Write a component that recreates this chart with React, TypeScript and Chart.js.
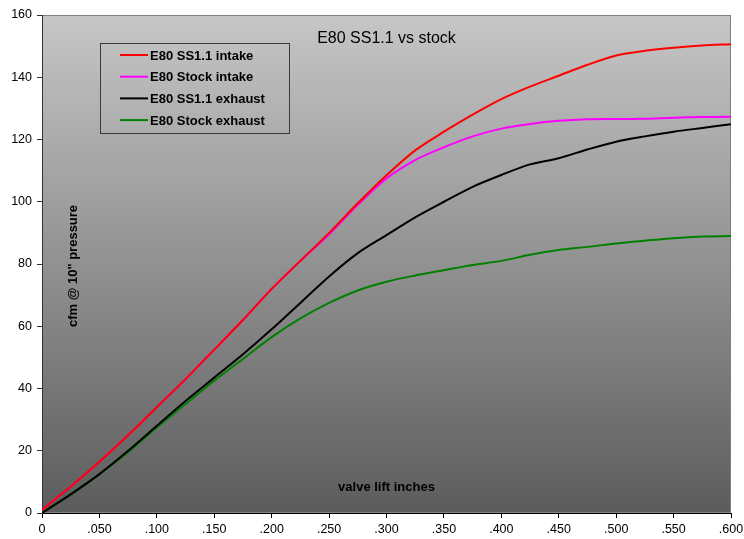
import { useEffect, useRef } from 'react'
import { Chart, LineController, LineElement, PointElement, LinearScale } from 'chart.js'

Chart.register(LineController, LineElement, PointElement, LinearScale)

// valve lift (inches) every .025
const lift = [
  0, 0.025, 0.05, 0.075, 0.1, 0.125, 0.15, 0.175, 0.2, 0.225, 0.25, 0.275, 0.3,
  0.325, 0.35, 0.375, 0.4, 0.425, 0.45, 0.475, 0.5, 0.525, 0.55, 0.575, 0.6,
]

// cfm @ 10" readings
const ssIntake = [
  1, 8.5, 16.5, 25, 34, 43, 52.5, 62, 72, 81, 90, 99.5, 108.5,
  116.5, 122.5, 128, 133, 137, 140.5, 144, 147, 148.5, 149.5, 150.2, 150.6,
]
const stockIntake = [
  1, 8.5, 16.5, 25, 34, 43, 52.5, 62, 72, 81, 89.5, 99, 107.5,
  113.4, 117.5, 121, 123.5, 125, 126, 126.5, 126.6, 126.7, 127, 127.2, 127.3,
]
const ssExhaust = [
  0, 6, 12.5, 20, 28, 36, 43.5, 51, 59, 67.5, 76, 83.5, 89.3,
  95, 100, 104.8, 108.6, 112, 114, 116.8, 119.3, 121, 122.5, 123.7, 124.9,
]
const stockExhaust = [
  0, 6, 12.5, 19.5, 27.5, 35, 42.5, 49.5, 56.5, 62.5, 67.5, 71.5, 74.3,
  76.3, 78, 79.7, 81, 83, 84.5, 85.5, 86.6, 87.5, 88.3, 88.8, 89,
]

const seriesNames = ['E80 SS1.1 intake', 'E80 Stock intake', 'E80 SS1.1 exhaust', 'E80 Stock exhaust']
const seriesColors = ['#ff0000', '#ff00ff', '#000000', '#008000']
const seriesValues = [ssIntake, stockIntake, ssExhaust, stockExhaust]

const FONT = "'Liberation Sans', Arial, sans-serif"

const fmtLift = (v: number) => (v === 0 ? '0' : v.toFixed(3).replace(/^0/, ''))

export default function App() {
  const canvasRef = useRef<HTMLCanvasElement>(null)
  const chartRef = useRef<Chart | null>(null)

  useEffect(() => {
    document.body.style.margin = '0'
    if (!canvasRef.current) return

    const decorPlugin = {
      id: 'decor',
      beforeDraw(chart: Chart) {
        const { ctx: c, chartArea: { left, right, top, bottom } } = chart
        c.save()
        c.fillStyle = '#ffffff'
        c.fillRect(0, 0, chart.width, chart.height)
        const g = c.createLinearGradient(0, top, 0, bottom)
        g.addColorStop(0, '#c6c6c6')
        g.addColorStop(1, '#5c5c5c')
        c.fillStyle = g
        c.fillRect(left, top, right - left, bottom - top)
        c.strokeStyle = '#808080'
        c.lineWidth = 1
        c.strokeRect(left + 0.5, top + 0.5, right - left - 1, bottom - top - 1)
        c.restore()
      },
      afterDraw(chart: Chart) {
        const { ctx: c, chartArea: { left, right, top, bottom } } = chart
        c.save()
        c.fillStyle = '#000'
        c.textAlign = 'center'
        c.textBaseline = 'middle'

        // title
        c.font = `16px ${FONT}`
        c.fillText('E80 SS1.1 vs stock', (left + right) / 2, top + 24)

        // axis titles, drawn inside the plot
        c.font = `bold 13px ${FONT}`
        c.fillText('valve lift inches', (left + right) / 2, bottom - 26)
        c.save()
        c.translate(left + 31, (top + bottom) / 2 + 2)
        c.rotate(-Math.PI / 2)
        c.fillText('cfm @ 10" pressure', 0, 0)
        c.restore()

        // legend box
        const bx = left + 58, by = top + 28, bw = 189, bh = 90
        c.strokeStyle = '#3a3a3a'
        c.lineWidth = 1
        c.strokeRect(bx + 0.5, by + 0.5, bw, bh)
        c.textAlign = 'left'
        c.font = `bold 13px ${FONT}`
        chart.data.datasets.forEach((ds, i) => {
          const y = by + 12 + i * 21.7
          c.strokeStyle = ds.borderColor as string
          c.lineWidth = 2
          c.beginPath(); c.moveTo(bx + 20, y); c.lineTo(bx + 48, y); c.stroke()
          c.fillStyle = '#000'
          c.fillText(ds.label as string, bx + 50, y + 1)
        })
        c.restore()
      },
    }

    chartRef.current = new Chart(canvasRef.current, {
      type: 'line',
      data: {
        datasets: seriesNames.map((name, i) => ({
          label: name,
          data: lift.map((x, j) => ({ x, y: seriesValues[i][j] })),
          borderColor: seriesColors[i],
          backgroundColor: seriesColors[i],
          borderWidth: 2,
          pointRadius: 0,
          tension: 0.3,
          fill: false,
        })),
      },
      options: {
        responsive: true,
        maintainAspectRatio: false,
        animation: false,
        layout: { padding: { top: 15, right: 13, left: 0, bottom: 0 } },
        plugins: { legend: { display: false }, tooltip: { enabled: false } },
        scales: {
          x: {
            type: 'linear',
            min: 0, max: 0.6,
            afterFit: (s: any) => { s.height = 26; s.paddingLeft = 0; s.paddingRight = 0 },
            ticks: {
              stepSize: 0.05,
              callback: (v: any) => fmtLift(+v),
              font: { family: FONT, size: 12.5 },
              color: '#000',
              padding: 4,
              maxRotation: 0,
              autoSkip: false,
            },
            grid: { drawOnChartArea: false, drawTicks: true, tickLength: 5, color: '#000' },
            border: { color: '#000', width: 1 },
          },
          y: {
            min: 0, max: 160,
            afterFit: (s: any) => { s.width = 42; s.paddingTop = 0; s.paddingBottom = 0 },
            ticks: {
              stepSize: 20,
              font: { family: FONT, size: 12.5 },
              color: '#000',
              padding: 5,
            },
            grid: { drawOnChartArea: false, drawTicks: true, tickLength: 5, color: '#333' },
            border: { color: '#333', width: 1 },
          },
        },
      },
      plugins: [decorPlugin as any],
    })

    return () => { chartRef.current?.destroy(); chartRef.current = null }
  }, [])

  return (
    <div style={{ position: 'relative', width: 744, height: 539 }}>
      <canvas ref={canvasRef} />
    </div>
  )
}
